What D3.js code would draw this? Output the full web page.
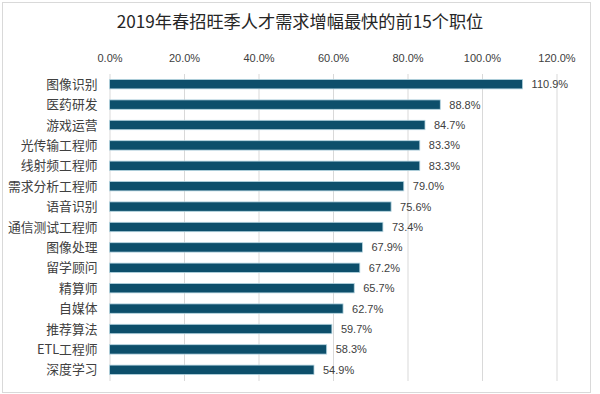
<!DOCTYPE html>
<html>
<head>
<meta charset="utf-8">
<script src="https://cdn.jsdelivr.net/npm/d3@7"></script>
<style>
  body { margin: 0; background: #fff; }
  svg { display: block; }
</style>
</head>
<body>
<div id="chart"></div>
<script>
const W = 600, H = 394;

const title = "2019年春招旺季人才需求增幅最快的前15个职位";
const jobs = ["图像识别", "医药研发", "游戏运营", "光传输工程师", "线射频工程师", "需求分析工程师",
              "语音识别", "通信测试工程师", "图像处理", "留学顾问", "精算师", "自媒体",
              "推荐算法", "ETL工程师", "深度学习"];
const growth = [110.9, 88.8, 84.7, 83.3, 83.3, 79.0, 75.6, 73.4, 67.9, 67.2, 65.7, 62.7, 59.7, 58.3, 54.9];
const ticks = [0, 20, 40, 60, 80, 100, 120];

const margin = {top: 74, left: 109.5, right: 43.5, bottom: 15};
const cjk = "'Noto Sans CJK SC', 'Noto Sans', sans-serif";
const num = "'Liberation Sans', 'DejaVu Sans', sans-serif";

const svg = d3.select("#chart").append("svg")
    .attr("width", W)
    .attr("height", H);

// outer frame
svg.append("rect")
    .attr("x", 2.5).attr("y", 2.5)
    .attr("width", 588).attr("height", 390)
    .attr("fill", "#fff")
    .attr("stroke", "#d9d9d9");

const x = d3.scaleLinear()
    .domain([0, 120])
    .range([margin.left, W - margin.right]);

const y = d3.scaleBand()
    .domain(jobs)
    .range([margin.top, margin.top + 15 * 20.4])
    .paddingInner(0.54)
    .paddingOuter(0.27);

svg.append("text")
    .attr("x", 300).attr("y", 28)
    .attr("text-anchor", "middle")
    .style("font-family", cjk)
    .style("font-size", "17.2px")
    .attr("fill", "#262626")
    .text(title);

// gridlines + top axis labels
const xAxis = svg.append("g")
    .attr("transform", `translate(0,${margin.top})`)
    .call(d3.axisTop(x)
        .tickValues(ticks)
        .tickSize(-(15 * 20.4 + 1))
        .tickPadding(12)
        .tickFormat(d => d.toFixed(1) + "%"));
xAxis.select(".domain").remove();
xAxis.selectAll(".tick line").attr("stroke", "#d9d9d9");
xAxis.selectAll(".tick text")
    .style("font-family", num)
    .style("font-size", "11px")
    .attr("fill", "#404040");

// category labels
svg.append("g")
    .selectAll("text")
    .data(jobs)
    .join("text")
    .attr("x", margin.left - 12)
    .attr("y", d => y(d) + y.bandwidth() / 2)
    .attr("dy", "0.36em")
    .attr("text-anchor", "end")
    .style("font-family", cjk)
    .style("font-size", "12.8px")
    .attr("fill", "#404040")
    .text(d => d);

// bars
svg.append("g")
    .selectAll("rect")
    .data(growth)
    .join("rect")
    .attr("x", x(0))
    .attr("y", (d, i) => y(jobs[i]))
    .attr("width", d => x(d) - x(0))
    .attr("height", y.bandwidth())
    .attr("fill", "#0d4f6b")
    .attr("stroke", "#b5d5e0")
    .attr("stroke-width", 0.8);

// value labels
svg.append("g")
    .selectAll("text")
    .data(growth)
    .join("text")
    .attr("x", d => x(d) + 9)
    .attr("y", (d, i) => y(jobs[i]) + y.bandwidth() / 2)
    .attr("dy", "0.36em")
    .style("font-family", num)
    .style("font-size", "11px")
    .attr("fill", "#404040")
    .text(d => d.toFixed(1) + "%");
</script>
</body>
</html>
